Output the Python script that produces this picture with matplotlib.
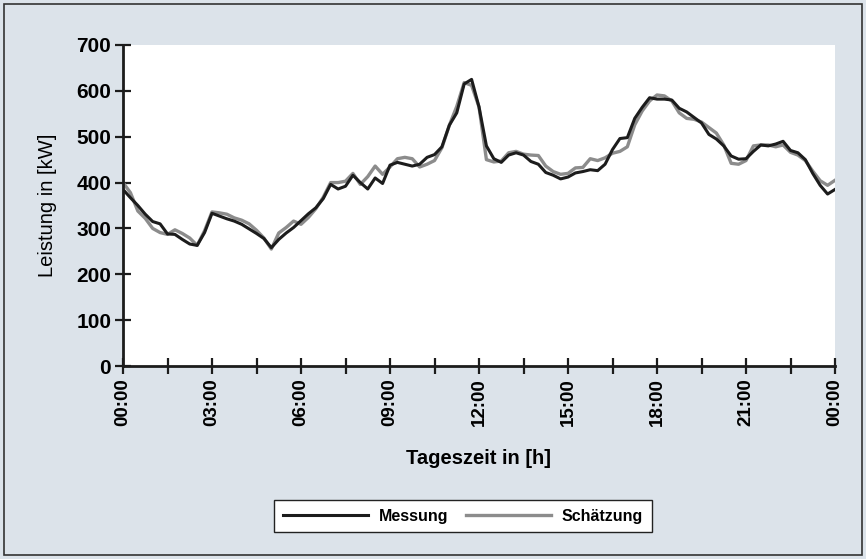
import numpy as np
import matplotlib
matplotlib.use("Agg")
import matplotlib.pyplot as plt
from matplotlib.patches import Rectangle

plt.rcParams['font.family'] = ['Liberation Sans', 'DejaVu Sans']

# Zeitachse: Viertelstundenwerte 00:00 .. 24:00
stunden = np.arange(97) * 0.25

# Messung (schwarz)
messung = [385, 367, 350, 331, 315, 310, 288, 287, 276, 266, 263, 291,
           333, 327, 321, 316, 309, 299, 289, 278, 258, 276, 290, 302,
           317, 332, 345, 365, 396, 386, 392, 416, 400, 386, 410, 398,
           438, 444, 440, 436, 440, 455, 461, 478, 525, 552, 615, 625,
           565, 480, 452, 444, 460, 465, 460, 446, 440, 422, 416, 408,
           412, 421, 424, 428, 426, 440, 472, 496, 498, 540, 564, 585,
           582, 582, 580, 562, 554, 542, 530, 505, 495, 480, 458, 451,
           452, 468, 482, 480, 484, 490, 470, 465, 450, 420, 394, 375,
           385]

# Schätzung (grau)
schaetzung = [400, 378, 338, 322, 300, 291, 287, 297, 289, 279, 263, 295,
              336, 334, 331, 323, 318, 310, 296, 279, 255, 290, 302, 316,
              309, 324, 343, 368, 400, 400, 403, 420, 396, 413, 436, 418,
              434, 452, 455, 452, 434, 440, 448, 476, 525, 566, 618, 612,
              565, 450, 445, 447, 465, 468, 462, 460, 459, 436, 424, 418,
              420, 432, 433, 452, 448, 454, 464, 468, 478, 526, 556, 578,
              591, 589, 578, 552, 540, 538, 532, 520, 508, 482, 442, 440,
              448, 480, 482, 482, 478, 482, 466, 460, 448, 425, 404, 394,
              405]

x_ticks = np.arange(0, 24.1, 1.5)
x_labels = ["00:00", "", "03:00", "", "06:00", "", "09:00", "", "12:00", "",
            "15:00", "", "18:00", "", "21:00", "", "00:00"]
y_ticks = [0, 100, 200, 300, 400, 500, 600, 700]

hintergrund = "#dce3ea"

fig = plt.figure(figsize=(8.66, 5.59), dpi=100, facecolor=hintergrund)
ax = fig.add_axes([123/866, 1-366/559, 712/866, 321/559])
ax.set_facecolor("white")

# Rahmen um die ganze Grafik
fig.patches.append(Rectangle((4/866, 4/559), 858/866, 551/559, transform=fig.transFigure,
                             fill=False, edgecolor="#333333", linewidth=1.2))

l1, = ax.plot(stunden, messung, color="#1c1c1c", linewidth=2.2, label="Messung", zorder=3)
l2, = ax.plot(stunden, schaetzung, color="#8c8c8c", linewidth=2.4, label="Schätzung", zorder=2)

ax.set_xlim(0, 24)
ax.set_ylim(0, 700)
ax.set_xticks(x_ticks)
ax.set_xticklabels(x_labels, rotation=90, fontsize=13.5, fontweight="bold")
ax.set_yticks(y_ticks)
ax.set_yticklabels([str(v) for v in y_ticks], fontsize=15, fontweight="bold")
ax.tick_params(direction="inout", length=11, width=1.6, color="#1c1c1c", pad=3)

for s in ["top", "right"]:
    ax.spines[s].set_visible(False)
for s in ["left", "bottom"]:
    ax.spines[s].set_linewidth(2)
    ax.spines[s].set_color("#1c1c1c")
    ax.spines[s].set_zorder(4)

ax.set_xlabel("Tageszeit in [h]", fontsize=14.5, fontweight="bold", labelpad=17)
ax.set_ylabel("Leistung in [kW]", fontsize=14.5, labelpad=14)

leg = fig.legend(handles=[l1, l2], loc="center", bbox_to_anchor=(463/866, 1-516/559),
                 ncol=2, frameon=True, fancybox=False, handlelength=5.3,
                 handletextpad=0.7, columnspacing=1.1, borderpad=0.55,
                 prop={"weight": "bold", "size": 11.5})
leg.get_frame().set_edgecolor("#222222")
leg.get_frame().set_linewidth(1.0)
leg.get_frame().set_facecolor("white")
leg.get_frame().set_alpha(1)

fig.savefig("out.png", dpi=100, facecolor=hintergrund)
